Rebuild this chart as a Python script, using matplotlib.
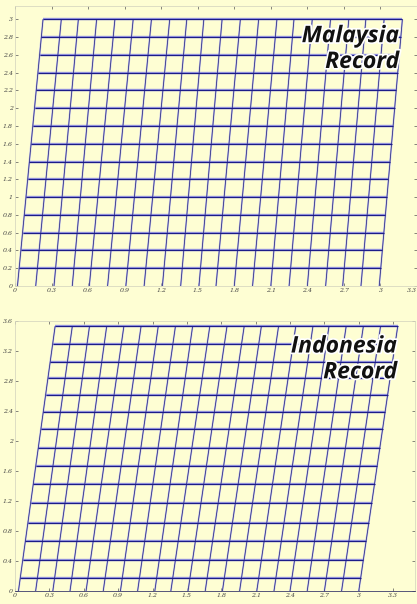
import numpy as np
import matplotlib.pyplot as plt
import matplotlib.patheffects as pe

# ---- Malaysia record (top panel) ----
my_rows = [0.2, 0.4, 0.6, 0.8, 1.0, 1.2, 1.4, 1.6, 1.8, 2.0, 2.2, 2.4, 2.6, 2.8, 3.0]
my_col_bottom = [0.02, 0.17, 0.32, 0.47, 0.61, 0.76, 0.91, 1.06, 1.21, 1.36, 1.51,
                 1.65, 1.80, 1.95, 2.10, 2.25, 2.40, 2.55, 2.69, 2.84, 2.99]
my_col_top = [0.23, 0.38, 0.52, 0.67, 0.82, 0.97, 1.12, 1.27, 1.41, 1.55, 1.70,
              1.85, 2.00, 2.15, 2.29, 2.44, 2.59, 2.74, 2.88, 3.03, 3.18]
my_xticks = [0, 0.3, 0.6, 0.9, 1.2, 1.5, 1.8, 2.1, 2.4, 2.7, 3, 3.3]
my_yticks = [0, 0.2, 0.4, 0.6, 0.8, 1, 1.2, 1.4, 1.6, 1.8, 2, 2.2, 2.4, 2.6, 2.8, 3]

# ---- Indonesia record (bottom panel) ----
id_rows = [0.17, 0.41, 0.67, 0.91, 1.17, 1.43, 1.67, 1.91, 2.16, 2.39, 2.61,
           2.84, 3.05, 3.29, 3.53]
id_col_bottom = [0.03, 0.18, 0.33, 0.48, 0.62, 0.77, 0.92, 1.07, 1.22, 1.36, 1.51,
                 1.66, 1.81, 1.96, 2.11, 2.26, 2.40, 2.55, 2.70, 2.85, 3.00]
id_col_top = [0.35, 0.50, 0.65, 0.80, 0.95, 1.10, 1.25, 1.40, 1.55, 1.70, 1.85,
              2.00, 2.15, 2.30, 2.45, 2.60, 2.74, 2.89, 3.04, 3.19, 3.34]
id_xticks = [0, 0.3, 0.6, 0.9, 1.2, 1.5, 1.8, 2.1, 2.4, 2.7, 3, 3.3]
id_yticks = [0, 0.4, 0.8, 1.2, 1.6, 2, 2.4, 2.8, 3.2, 3.6]

bg = '#fefed3'


def draw_mesh(ax, rows, col_bottom, col_top):
    top = rows[-1]
    cb = np.array(col_bottom)
    ct = np.array(col_top)
    # vertical lines from the base up to the top row
    for xb, xt in zip(cb, ct):
        ax.plot([xb, xt], [0, top], color='#c0c0ee', lw=1.3, solid_capstyle='butt', zorder=2)
        ax.plot([xb, xt], [0, top], color='#2a2a7e', lw=0.55, solid_capstyle='butt', zorder=3)
    # horizontal lines through the sheared columns
    for y in rows:
        f = y / top
        xl = cb[0] + (ct[0] - cb[0]) * f
        xr = cb[-1] + (ct[-1] - cb[-1]) * f
        ax.plot([xl, xr], [y, y], color='#9a9ae4', lw=1.7, solid_capstyle='butt', zorder=2)
        ax.plot([xl, xr], [y, y], color='#1c1c88', lw=0.85, solid_capstyle='butt', zorder=3)


def style_axes(ax, xlim, ylim, xticks, yticks):
    ax.set_facecolor(bg)
    ax.set_xlim(*xlim)
    ax.set_ylim(*ylim)
    ax.set_xticks(xticks)
    ax.set_yticks(yticks)
    ax.set_xticklabels([('%g' % t) for t in xticks])
    ax.set_yticklabels([('%g' % t) for t in yticks])
    ax.tick_params(axis='both', direction='in', length=2.5, width=0.5, colors='#555555',
                   labelsize=4.5, pad=1.5, top=True, right=True)
    for lab in ax.get_xticklabels() + ax.get_yticklabels():
        lab.set_family('DejaVu Serif')
        lab.set_style('italic')
        lab.set_color('#444444')
    for s in ax.spines.values():
        s.set_color('#d8d8c0')
        s.set_linewidth(0.6)


fig = plt.figure(figsize=(4.17, 6.04), dpi=100, facecolor=bg)

ax1 = fig.add_axes([0.036, 0.5265, 0.964, 0.4636])
draw_mesh(ax1, my_rows, my_col_bottom, my_col_top)
style_axes(ax1, (0, 3.3), (0, 3.15), my_xticks, my_yticks)
# last x label sits at the right border, keep it inside the figure
ax1.get_xticklabels()[-1].set_horizontalalignment('right')

ax2 = fig.add_axes([0.036, 0.0215, 0.959, 0.447])
draw_mesh(ax2, id_rows, id_col_bottom, id_col_top)
style_axes(ax2, (0, 3.49), (0, 3.6), id_xticks, id_yticks)
ax2.spines['bottom'].set_color('#3a3a6a')

halo = [pe.withStroke(linewidth=2.5, foreground='white')]
ax1.text(0.955, 0.935, 'Malaysia\nRecord', transform=ax1.transAxes, ha='right', va='top',
         fontsize=16.5, fontweight='bold', fontstyle='italic', family='Open Sans',
         linespacing=1.1, color='#111111', path_effects=halo, zorder=5)
ax2.text(0.955, 0.95, 'Indonesia\nRecord', transform=ax2.transAxes, ha='right', va='top',
         fontsize=16.5, fontweight='bold', fontstyle='italic', family='Open Sans',
         linespacing=1.1, color='#111111', path_effects=halo, zorder=5)

fig.savefig('out.png', dpi=100, facecolor=bg)
